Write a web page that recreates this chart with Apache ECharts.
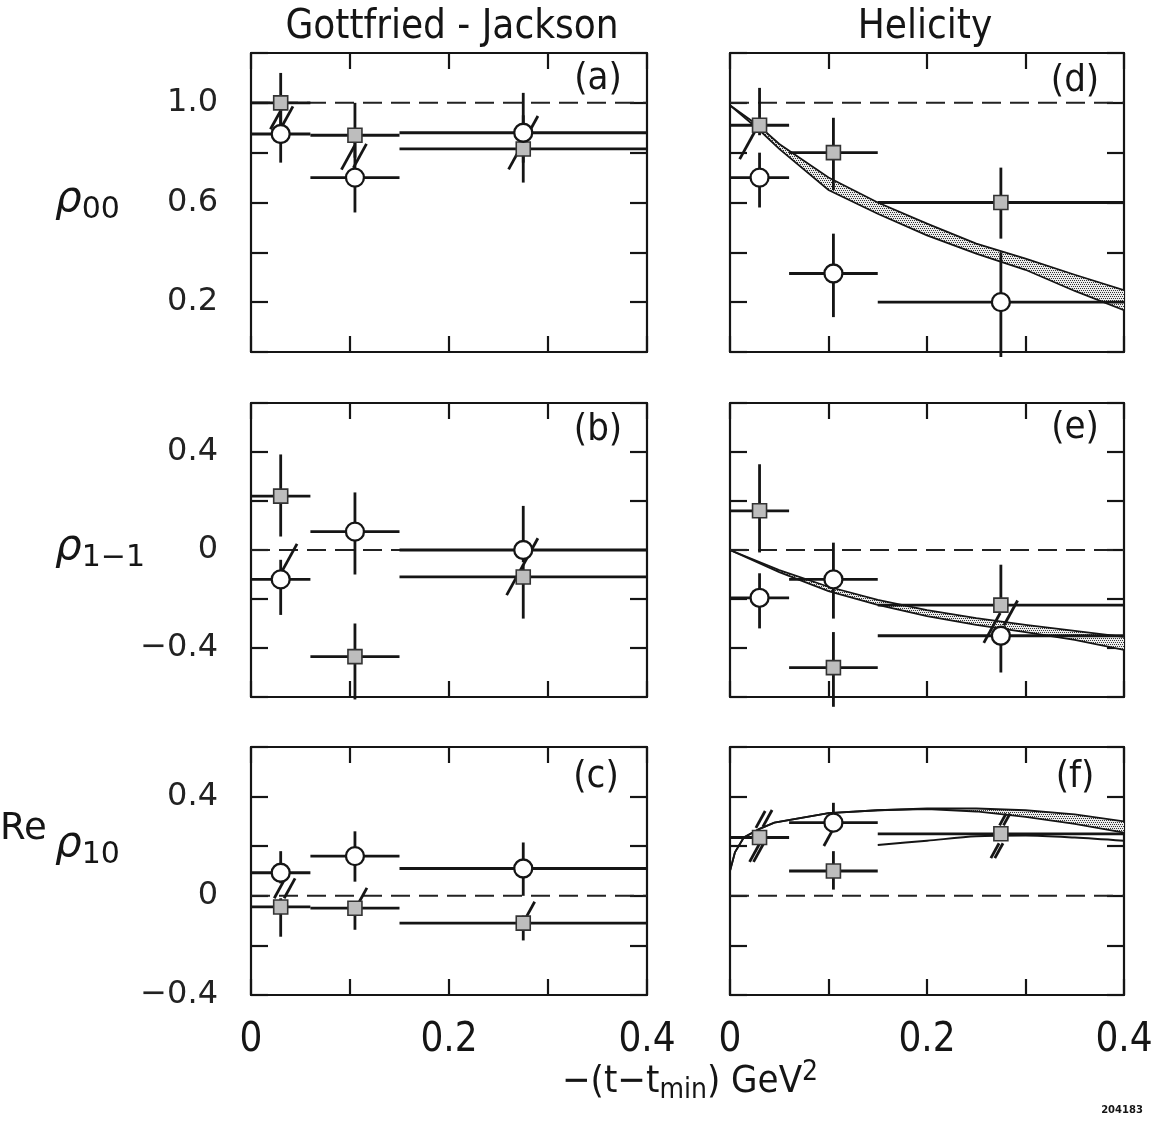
<!DOCTYPE html>
<html>
<head>
<meta charset="utf-8">
<script src="https://cdn.jsdelivr.net/npm/echarts@6/dist/echarts.min.js"></script>
<style>html,body{margin:0;padding:0;background:#fff}#c{width:1166px;height:1121px}</style>
</head>
<body>
<div id="c"></div>
<script>
// ---------------- data ----------------
const columnTitles = ['Gottfried - Jackson', 'Helicity'];
const panelLetters = ['(a)', '(b)', '(c)', '(d)', '(e)', '(f)'];
const xTickLabels = ['0', '0.2', '0.4'];
const yTickLabels = [['0.2', '0.6', '1.0'], ['0.4', '0', '\u22120.4'], ['0.4', '0', '\u22120.4']];
const yTickValues = [[0.2, 0.6, 1.0], [0.4, 0, -0.4], [0.4, 0, -0.4]];
const rowMin = [0, -0.6, -0.4];
const rowMax = [1.2, 0.6, 0.6];
const refLines = [1.0, 0, 0, 1.0, 0, 0];

// t' bins and bin centres
const xCenters = [0.03, 0.105, 0.275];
const binLo = [0, 0.06, 0.15];
const binHi = [0.06, 0.15, 0.4];

// [value, lower end of error bar, upper end of error bar]
const aCircle = [[0.875, 0.76, 0.98], [0.70, 0.56, 0.84], [0.88, 0.76, 1.04]];
const aSquare = [[1.0, 0.88, 1.12], [0.87, 0.78, 1.0], [0.815, 0.68, 0.95]];
const bCircle = [[-0.12, -0.265, -0.04], [0.075, -0.10, 0.235], [0.0, -0.05, 0.18]];
const bSquare = [[0.22, 0.055, 0.39], [-0.435, -0.61, -0.30], [-0.11, -0.28, -0.06]];
const cCircle = [[0.093, 0.05, 0.18], [0.16, 0.057, 0.26], [0.11, 0.0, 0.215]];
const cSquare = [[-0.045, -0.165, -0.01], [-0.05, -0.137, -0.03], [-0.11, -0.18, -0.08]];
const dCircle = [[0.70, 0.58, 0.80], [0.315, 0.14, 0.475], [0.20, -0.02, 0.40]];
const dSquare = [[0.91, 0.87, 1.06], [0.80, 0.65, 0.94], [0.60, 0.455, 0.74]];
const eCircle = [[-0.195, -0.32, -0.095], [-0.12, -0.28, 0.03], [-0.35, -0.5, -0.33]];
const eSquare = [[0.16, -0.01, 0.35], [-0.48, -0.64, -0.335], [-0.225, -0.25, -0.06]];
const fCircle = [null, [0.295, 0.26, 0.375], null];
const fSquare = [[0.235, 0.235, 0.235], [0.10, 0.025, 0.18], [0.25, 0.25, 0.25]];

// short "/" break marks on error bars: [x, y, half height in y units]
const aSlash = [[0.026, 0.94, 0.046], [0.036, 0.94, 0.046], [0.098, 0.78, 0.048], [0.11, 0.787, 0.048], [0.275, 0.84, 0.107]];
const bSlash = [[0.039, -0.03, 0.055], [0.274, -0.068, 0.116]];
const cSlash = [[0.029, 0.03, 0.04], [0.039, 0.03, 0.04], [0.112, -0.005, 0.037], [0.282, -0.057, 0.033]];
const dSlash = [[0.019, 0.84, 0.066]];
const eSlash = [[0.266, -0.318, 0.061], [0.285, -0.257, 0.051]];
const fSlash = [[0.031, 0.308, 0.034], [0.038, 0.312, 0.034], [0.025, 0.174, 0.037], [0.029, 0.174, 0.037],
                [0.10, 0.235, 0.034], [0.277, 0.308, 0.024], [0.281, 0.308, 0.024], [0.269, 0.182, 0.03], [0.273, 0.182, 0.03]];

// model bands (helicity frame)
const dBandX = [0, 0.03, 0.05, 0.1, 0.15, 0.2, 0.25, 0.3, 0.35, 0.4];
const dBandUpper = [0.99, 0.905, 0.835, 0.70, 0.60, 0.515, 0.435, 0.375, 0.31, 0.248];
const dBandLower = [0.99, 0.89, 0.815, 0.65, 0.555, 0.468, 0.395, 0.33, 0.245, 0.168];
const eBandX = [0, 0.05, 0.1, 0.15, 0.2, 0.25, 0.3, 0.35, 0.4];
const eBandUpper = [0, -0.082, -0.15, -0.204, -0.245, -0.278, -0.306, -0.33, -0.355];
const eBandLower = [0, -0.09, -0.168, -0.224, -0.27, -0.306, -0.335, -0.367, -0.408];
const fBandX = [0, 0.005, 0.014, 0.03, 0.045, 0.1, 0.15, 0.2, 0.25, 0.3, 0.35, 0.4];
const fBandUpper = [0.10, 0.175, 0.235, 0.27, 0.295, 0.333, 0.345, 0.352, 0.352, 0.345, 0.328, 0.30];
const fBandLower = [0.10, 0.175, 0.235, 0.27, 0.295, 0.333, 0.345, 0.35, 0.34, 0.318, 0.29, 0.255];
const fAltX = [0.15, 0.2, 0.25, 0.3, 0.35, 0.4];
const fAltCurve = [0.205, 0.222, 0.24, 0.243, 0.235, 0.222];

// ---------------- layout ----------------
const colLeft = [251, 730], colWidth = [396, 394];
const rowTop = [53, 403, 747], rowHeight = [299, 294, 248];
const INK = '#151515';

const circlesAll = [aCircle, bCircle, cCircle, dCircle, eCircle, fCircle];
const squaresAll = [aSquare, bSquare, cSquare, dSquare, eSquare, fSquare];
const slashesAll = [aSlash, bSlash, cSlash, dSlash, eSlash, fSlash];
const bandsAll = [null, null, null,
  {x: dBandX, u: dBandUpper, l: dBandLower},
  {x: eBandX, u: eBandUpper, l: eBandLower},
  {x: fBandX, u: fBandUpper, l: fBandLower}];

// dotted fill pattern for the bands
const pat = document.createElement('canvas');
pat.width = 4; pat.height = 4;
(function () {
  const g = pat.getContext('2d');
  g.fillStyle = '#ececec'; g.fillRect(0, 0, 4, 4);
  g.fillStyle = '#333';
  g.fillRect(0, 0, 1, 1); g.fillRect(2, 0, 1, 1); g.fillRect(1, 2, 1, 1); g.fillRect(3, 2, 1, 1);
})();

const grid = [], xAxis = [], yAxis = [], series = [];

function errData(arr) {
  const out = [];
  arr.forEach((d, k) => { if (d) out.push([xCenters[k], d[0], binLo[k], binHi[k], d[1], d[2]]); });
  return out;
}
function ptData(arr) {
  const out = [];
  arr.forEach((d, k) => { if (d) out.push([xCenters[k], d[0]]); });
  return out;
}

for (let i = 0; i < 6; i++) {
  const col = i < 3 ? 0 : 1, row = i % 3;
  grid.push({left: colLeft[col], width: colWidth[col], top: rowTop[row], height: rowHeight[row]});
  const lineSt = {color: INK, width: 2.2};
  const xBase = {type: 'value', gridIndex: i, min: 0, max: 0.4, interval: 0.1,
    splitLine: {show: false}, axisLine: {show: true, onZero: false, lineStyle: lineSt},
    axisTick: {show: true, inside: true, length: 16, lineStyle: lineSt}};
  xAxis.push(Object.assign({}, xBase, {position: 'bottom',
    axisLabel: row === 2 ? {show: true, showMinLabel: true, showMaxLabel: true, margin: 26,
      color: INK, fontSize: 40, fontFamily: '"Liberation Sans Narrow", "DejaVu Sans Condensed", "Liberation Sans", sans-serif',
      formatter: v => { const k = [0, 0.2, 0.4].findIndex(t => Math.abs(t - v) < 1e-6); return k >= 0 ? xTickLabels[k] : ''; }}
      : {show: false}}));
  xAxis.push(Object.assign({}, xBase, {position: 'top', axisLabel: {show: false}}));
  const yBase = {type: 'value', gridIndex: i, min: rowMin[row], max: rowMax[row], interval: 0.2,
    splitLine: {show: false}, axisLine: {show: true, onZero: false, lineStyle: lineSt},
    axisTick: {show: true, inside: true, length: 17, lineStyle: lineSt}};
  yAxis.push(Object.assign({}, yBase, {position: 'left',
    axisLabel: col === 0 ? {show: true, showMinLabel: true, showMaxLabel: true, margin: 33, color: '#222',
      fontSize: 32, fontFamily: '"DejaVu Sans", sans-serif',
      formatter: v => { const k = yTickValues[row].findIndex(t => Math.abs(t - v) < 1e-6); return k >= 0 ? yTickLabels[row][k] : ''; }}
      : {show: false}}));
  yAxis.push(Object.assign({}, yBase, {position: 'right', axisLabel: {show: false}}));

  const ax = {xAxisIndex: 2 * i, yAxisIndex: 2 * i};

  // band
  const band = bandsAll[i];
  if (band) {
    series.push(Object.assign({type: 'custom', silent: true, z: 1, clip: true,
      data: band.x.map((x, k) => [x, band.u[k], band.l[k]]),
      renderItem: (params, api) => {
        if (params.dataIndex !== 0) return null;
        const n = band.x.length, up = [], lo = [];
        for (let k = 0; k < n; k++) {
          up.push(api.coord([api.value(0, k), api.value(1, k)]));
          lo.push(api.coord([api.value(0, k), api.value(2, k)]));
        }
        const poly = up.concat(lo.slice().reverse());
        return {type: 'group', children: [
          {type: 'polygon', shape: {points: poly}, style: {fill: {image: pat, repeat: 'repeat'}, stroke: null}},
          {type: 'polyline', shape: {points: up}, style: {fill: null, stroke: INK, lineWidth: 1.8}},
          {type: 'polyline', shape: {points: lo}, style: {fill: null, stroke: INK, lineWidth: 1.8}}
        ]};
      }}, ax));
  }
  if (i === 5) {
    series.push(Object.assign({type: 'line', silent: true, z: 2, symbol: 'none', smooth: 0.3,
      data: fAltX.map((x, k) => [x, fAltCurve[k]]),
      lineStyle: {color: INK, width: 2}}, ax));
  }
  // dashed reference line
  series.push(Object.assign({type: 'line', silent: true, z: 2, symbol: 'none',
    data: [[0, refLines[i]], [0.4, refLines[i]]],
    lineStyle: {color: '#222', width: 2, type: [19, 9]}}, ax));

  // error bars
  const errRender = (params, api) => {
    const y = api.value(1);
    const p1 = api.coord([api.value(2), y]), p2 = api.coord([api.value(3), y]);
    const p3 = api.coord([api.value(0), api.value(4)]), p4 = api.coord([api.value(0), api.value(5)]);
    const st = {stroke: INK, lineWidth: 2.8, fill: null};
    return {type: 'group', children: [
      {type: 'line', shape: {x1: p1[0], y1: p1[1], x2: p2[0], y2: p2[1]}, style: st},
      {type: 'line', shape: {x1: p3[0], y1: p3[1], x2: p4[0], y2: p4[1]}, style: st}
    ]};
  };
  series.push(Object.assign({type: 'custom', silent: true, z: 3, clip: false, data: errData(squaresAll[i]), renderItem: errRender}, ax));
  series.push(Object.assign({type: 'custom', silent: true, z: 3, clip: false, data: errData(circlesAll[i]), renderItem: errRender}, ax));

  // slash marks
  series.push(Object.assign({type: 'custom', silent: true, z: 4, clip: false, data: slashesAll[i],
    renderItem: (params, api) => {
      const c = api.coord([api.value(0), api.value(1)]);
      const t = api.coord([api.value(0), api.value(1) + api.value(2)]);
      const d = c[1] - t[1];
      return {type: 'line', shape: {x1: c[0] - 0.55 * d, y1: c[1] + d, x2: c[0] + 0.55 * d, y2: c[1] - d},
        style: {stroke: INK, lineWidth: 2.8}};
    }}, ax));

  // markers
  series.push(Object.assign({type: 'scatter', silent: true, z: 5, symbol: 'rect', symbolSize: 14,
    data: ptData(squaresAll[i]),
    itemStyle: {color: '#bdbdbd', borderColor: '#333', borderWidth: 1.6, opacity: 1}}, ax));
  series.push(Object.assign({type: 'scatter', silent: true, z: 5, symbol: 'circle', symbolSize: 18,
    data: ptData(circlesAll[i]),
    itemStyle: {color: '#fff', borderColor: INK, borderWidth: 2.3, opacity: 1}}, ax));
}

// ---------------- texts ----------------
const narrow = '"Liberation Sans Narrow", "DejaVu Sans Condensed", "Liberation Sans", sans-serif';
const graphic = [];
graphic.push({type: 'text', x: 452, y: 28, style: {text: columnTitles[0], font: '40px ' + narrow, fill: INK, textAlign: 'center', textVerticalAlign: 'middle'}});
graphic.push({type: 'text', x: 925, y: 28, style: {text: columnTitles[1], font: '40px ' + narrow, fill: INK, textAlign: 'center', textVerticalAlign: 'middle'}});
const letterPos = [[598, 79], [598, 430], [596, 777], [1075, 81], [1075, 428], [1075, 777]];
panelLetters.forEach((t, k) => graphic.push({type: 'text', x: letterPos[k][0], y: letterPos[k][1],
  style: {text: t, font: '38px ' + narrow, fill: INK, textAlign: 'center', textVerticalAlign: 'middle'}}));

const rhoRich = {
  r: {font: 'italic 42px "DejaVu Sans", sans-serif', fill: INK, lineHeight: 50, verticalAlign: 'middle'},
  s: {font: '30px "DejaVu Sans", sans-serif', fill: INK, lineHeight: 26, verticalAlign: 'bottom'}
};
graphic.push({type: 'text', x: 55, y: 200, style: {text: '{r|\u03c1}{s|00}', rich: rhoRich, textAlign: 'left', textVerticalAlign: 'middle'}});
graphic.push({type: 'text', x: 55, y: 548, style: {text: '{r|\u03c1}{s|1\u22121}', rich: rhoRich, textAlign: 'left', textVerticalAlign: 'middle'}});
graphic.push({type: 'text', x: 0, y: 829, style: {text: 'Re', font: '37px "DejaVu Sans", sans-serif', fill: INK, textAlign: 'left', textVerticalAlign: 'middle'}});
graphic.push({type: 'text', x: 55, y: 845, style: {text: '{r|\u03c1}{s|10}', rich: rhoRich, textAlign: 'left', textVerticalAlign: 'middle'}});

graphic.push({type: 'text', x: 690, y: 1082, style: {
  text: '{a|\u2212(t\u2212t}{b|min}{a|) GeV}{c|2}', textAlign: 'center', textVerticalAlign: 'middle',
  rich: {
    a: {font: '38px ' + narrow, fill: INK, lineHeight: 46, verticalAlign: 'middle'},
    b: {font: '28px ' + narrow, fill: INK, lineHeight: 28, verticalAlign: 'bottom'},
    c: {font: '28px ' + narrow, fill: INK, lineHeight: 22, verticalAlign: 'top'}
  }}});
graphic.push({type: 'text', x: 1122, y: 1110, style: {text: '204183', font: 'bold 10px "DejaVu Sans", sans-serif', fill: INK, textAlign: 'center', textVerticalAlign: 'middle'}});

const chart = echarts.init(document.getElementById('c'), null, {renderer: 'canvas'});
chart.setOption({
  animation: false,
  backgroundColor: '#fff',
  grid, xAxis, yAxis, series, graphic
});
</script>
</body>
</html>
